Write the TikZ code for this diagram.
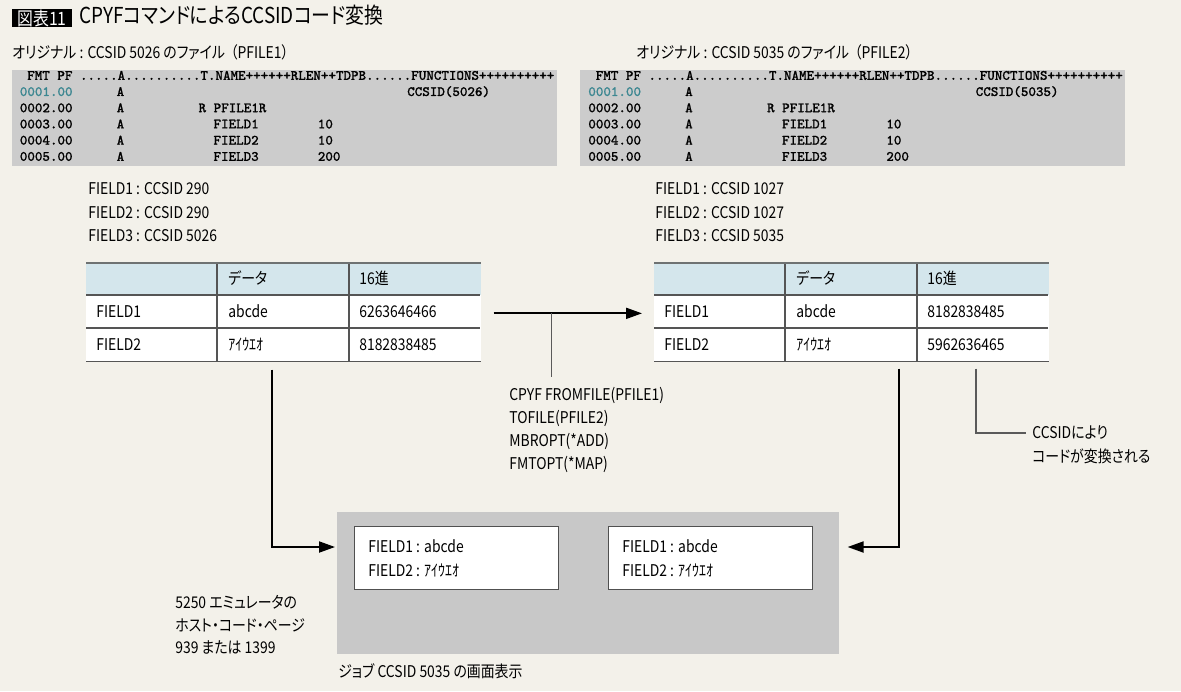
\documentclass[tikz,border=0pt]{standalone}
\usepackage{fontspec}
\setmainfont{Noto Sans CJK JP}[FakeStretch=0.86,RawFeature=+palt]
\newfontfamily\codefont{Latin Modern Mono}[FakeBold=1.2]
\usetikzlibrary{arrows.meta,calc}

\definecolor{paper}{RGB}{243,241,234}
\definecolor{srcgray}{RGB}{204,204,204}
\definecolor{screengray}{RGB}{200,200,200}
\definecolor{headblue}{RGB}{212,230,236}
\definecolor{rulegray}{RGB}{85,85,85}
\definecolor{topgray}{RGB}{110,114,114}
\definecolor{leadgray}{RGB}{90,90,90}
\definecolor{boxline}{RGB}{80,80,80}
\definecolor{seqteal}{RGB}{60,135,145}

\tikzset{
  txt/.style={anchor=west,inner sep=0pt,text height=8pt,text depth=1.5pt,font=\fontsize{9.2}{11}\selectfont},
  code/.style={anchor=west,inner sep=0pt,text height=5.5pt,text depth=1.2pt,font=\codefont\fontsize{8.07}{9}\selectfont},
  srcbox/.style={fill=srcgray,anchor=north west,inner sep=0pt,minimum height=1.92cm},
  tbl/.style={anchor=north west,inner sep=0pt,minimum width=7.88cm,minimum height=1.96cm},
  fieldbox/.style={draw=boxline,fill=white,line width=0.6pt,anchor=north west,inner sep=0pt,minimum width=4.08cm,minimum height=1.26cm},
  flow/.style={line width=1.1pt,-{Triangle[length=0.32cm,width=0.22cm]}},
  lead/.style={line width=0.6pt,draw=leadgray},
  rule/.style={line width=0.7pt,draw=rulegray},
  toprule/.style={line width=1.2pt,draw=topgray},
}

\begin{document}
\begin{tikzpicture}[x=0.02cm,y=-0.02cm]
\fill[paper] (0,0) rectangle (1181,691);
\useasboundingbox (0,0) rectangle (1181,691);

% title
\node[fill=black,text=white,inner sep=0pt,minimum width=1.2cm,minimum height=0.36cm,font=\fontsize{10.5}{12}\selectfont] (tag) at (42,18) {図表11};
\node[txt,font=\fontsize{12.5}{14}\selectfont] (title) at (79,18) {CPYFコマンドによるCCSIDコード変換};

\node[txt] (lname) at (12,53) {オリジナル : CCSID 5026 のファイル\hspace{0.35em}（PFILE1）};
\node[txt] (rname) at (636,53) {オリジナル : CCSID 5035 のファイル\hspace{0.35em}（PFILE2）};

% source listings
\node[srcbox,minimum width=10.9cm] (lsrc) at (12,70) {};
\node[srcbox,minimum width=10.9cm] (rsrc) at (580,70) {};
\foreach \side/\c/\id in {l/19.5/5026, r/588/5035} {
  \node[code] (\side head) at ({\c+7.45},76) {FMT PF .....A..........T.NAME++++++RLEN++TDPB......FUNCTIONS++++++++++};
  \foreach \i/\y in {1/92.2, 2/108.4, 3/124.6, 4/140.8, 5/157} {
    \node[code] (\side seq\i) at (\c,\y) {\ifnum\i=1 \color{seqteal}\fi 000\i.00};
    \node[code] (\side a\i) at ({\c+7.45*13},\y) {A};
  }
  \node[code] (\side fn) at ({\c+7.45*52},92.2) {CCSID(\id)};
  \node[code] (\side rec) at ({\c+7.45*24},108.4) {R PFILE1R};
  \foreach \i/\y/\f/\len in {3/124.6/1/10, 4/140.8/2/10, 5/157/3/200} {
    \node[code] (\side name\i) at ({\c+7.45*26},\y) {FIELD\f};
    \node[code] (\side len\i) at ({\c+7.45*40},\y) {\len};
  }
}

% CCSID of each field
\foreach \t [count=\i] in {FIELD1 : CCSID 290, FIELD2 : CCSID 290, FIELD3 : CCSID 5026}
  \node[txt] (lcc\i) at (88,{189+23.5*(\i-1)}) {\t};
\foreach \t [count=\i] in {FIELD1 : CCSID 1027, FIELD2 : CCSID 1027, FIELD3 : CCSID 5035}
  \node[txt] (rcc\i) at (655,{189+23.5*(\i-1)}) {\t};

% tables
\foreach \side/\ox/\hexa/\hexb in {l/86/6263646466/8182838485, r/654/8182838485/5962636465} {
  \node[tbl] (\side tab) at (\ox,263) {};
  \fill[headblue] (\side tab.north west) rectangle ($(\side tab.north east)+(0,32)$);
  \fill[white] ($(\side tab.north west)+(0,32)$) rectangle (\side tab.south east);
  \draw[rule] ($(\side tab.north west)+(0,32)$) -- ++(394,0);
  \draw[rule] ($(\side tab.north west)+(0,65)$) -- ++(394,0);
  \draw[rule] (\side tab.south west) -- (\side tab.south east);
  \draw[rule] ($(\side tab.north west)+(131,0)$) -- ++(0,98);
  \draw[rule] ($(\side tab.north west)+(263,0)$) -- ++(0,98);
  \draw[toprule] (\side tab.north west) -- (\side tab.north east);
  \node[txt] (\side h2) at ($(\side tab.north west)+(142,16)$) {データ};
  \node[txt] (\side h3) at ($(\side tab.north west)+(273,16)$) {16進};
  \node[txt] (\side f1) at ($(\side tab.north west)+(10,49)$) {FIELD1};
  \node[txt] (\side d1) at ($(\side tab.north west)+(142,49)$) {abcde};
  \node[txt] (\side x1) at ($(\side tab.north west)+(273,49)$) {\hexa};
  \node[txt] (\side f2) at ($(\side tab.north west)+(10,82)$) {FIELD2};
  \node[txt] (\side d2) at ($(\side tab.north west)+(142,82)$) {ｱｲｳｴｵ};
  \node[txt] (\side x2) at ($(\side tab.north west)+(273,82)$) {\hexb};
}

% CPYF
\draw[flow] ($(ltab.east)+(13,1)$) -- ($(rtab.west)+(-12,1)$);
\coordinate (tap) at ($(ltab.east)+(71,1)$);
\foreach \t [count=\i] in {CPYF FROMFILE(PFILE1), TOFILE(PFILE2), MBROPT(*ADD), FMTOPT(*MAP)}
  \node[txt] (cmd\i) at (509,{395+23*(\i-1)}) {\t};
\draw[lead] (tap) -- ($(tap |- cmd1.north)+(0,-9)$);

% job screen
\node[fill=screengray,anchor=north west,inner sep=0pt,minimum width=10.04cm,minimum height=2.84cm] (job) at (337,512) {};
\node[fieldbox] (jl) at (354,526) {};
\node[fieldbox] (jr) at (608,526) {};
\foreach \b in {jl,jr} {
  \node[txt] (\b1) at ($(\b.north west)+(14,21)$) {FIELD1 : abcde};
  \node[txt] (\b2) at ($(\b.north west)+(14,45)$) {FIELD2 : ｱｲｳｴｵ};
}
\node[txt] (jobname) at (338,672) {ジョブ CCSID 5035 の画面表示};

\draw[flow] ($(ltab.south west)+(186,8)$) |- ($(job.north west)+(-2,35)$);
\draw[flow] ($(rtab.south west)+(245,7)$) |- ($(job.north east)+(8,35)$);

% note
\node[txt] (note1) at (1032,433) {CCSIDにより};
\node[txt] (note2) at (1032,457) {コードが変換される};
\draw[lead] ($(rtab.south west)+(322,7)$) |- ($(note1.west)+(-6,0)$);

\foreach \t [count=\i] in {5250 エミュレータの, ホスト・コード・ページ, 939 または 1399}
  \node[txt] (emu\i) at (175,{603+22.5*(\i-1)}) {\t};
\end{tikzpicture}
\end{document}
